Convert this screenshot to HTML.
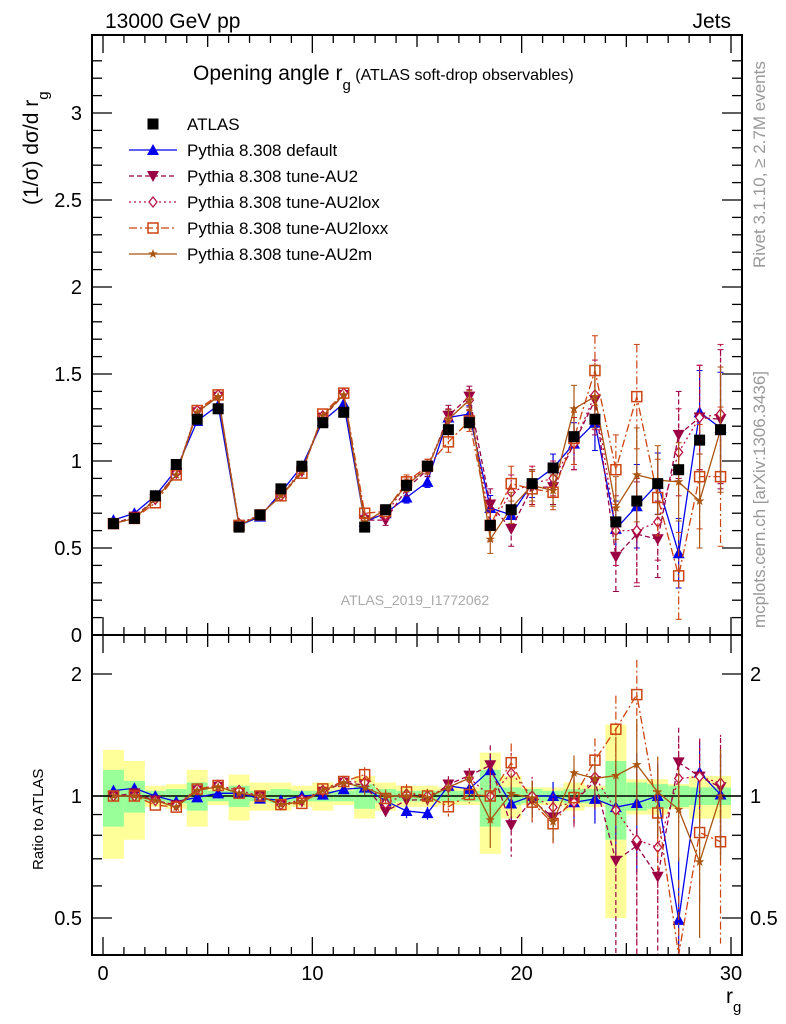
<!DOCTYPE html>
<html><head><meta charset="utf-8"><style>
html,body{margin:0;padding:0;background:#fff;}
svg{display:block;font-family:"Liberation Sans",sans-serif;}
</style></head><body>
<svg id="chart" width="786" height="1024" viewBox="0 0 786 1024" xmlns="http://www.w3.org/2000/svg">
<g id="bands"></g>
<g id="marks"></g>
<g id="axes"></g>
<text x="105" y="28" font-size="21">13000 GeV pp</text>
<text x="731" y="28" font-size="21" text-anchor="end">Jets</text>
<text x="193" y="80" font-size="21">Opening angle r<tspan font-size="15" dy="10">g</tspan><tspan font-size="16" dy="-10"> (ATLAS soft-drop observables)</tspan></text>
<text transform="translate(38,205) rotate(-90)" font-size="21">(1/σ) dσ/d r<tspan font-size="15" dy="10">g</tspan></text>
<text transform="translate(43,870) rotate(-90)" font-size="15">Ratio to ATLAS</text>
<text transform="translate(765,268) rotate(-90)" font-size="17" fill="#999">Rivet 3.1.10, ≥ 2.7M events</text>
<text transform="translate(765,628) rotate(-90)" font-size="17" fill="#999">mcplots.cern.ch [arXiv:1306.3436]</text>
<text x="415" y="605" font-size="14" fill="#aaa" text-anchor="middle">ATLAS_2019_I1772062</text>
<text x="726" y="1003" font-size="21">r<tspan font-size="15" dy="9">g</tspan></text>
<g id="legend"></g>
</svg>
<script>
const xCenters=[0.5,1.5,2.5,3.5,4.5,5.5,6.5,7.5,8.5,9.5,10.5,11.5,12.5,13.5,14.5,15.5,16.5,17.5,18.5,19.5,20.5,21.5,22.5,23.5,24.5,25.5,26.5,27.5,28.5,29.5];
const atlas=[0.64,0.67,0.80,0.98,1.24,1.30,0.62,0.69,0.84,0.97,1.22,1.28,0.62,0.72,0.86,0.97,1.18,1.22,0.63,0.72,0.87,0.96,1.14,1.24,0.65,0.77,0.87,0.95,1.12,1.18];
const bandTotal=[0.30,0.22,0.06,0.07,0.16,0.05,0.13,0.08,0.08,0.06,0.08,0.05,0.12,0.08,0.06,0.06,0.05,0.05,0.28,0.12,0.05,0.05,0.08,0.06,0.50,0.10,0.10,0.07,0.12,0.12];
const bandStat=[0.16,0.09,0.03,0.04,0.08,0.03,0.06,0.03,0.04,0.03,0.03,0.03,0.07,0.04,0.03,0.03,0.03,0.03,0.16,0.05,0.04,0.03,0.04,0.04,0.22,0.08,0.07,0.06,0.05,0.05];
const mcErr=[0.01,0.01,0.01,0.01,0.01,0.01,0.01,0.01,0.01,0.01,0.01,0.01,0.03,0.03,0.04,0.04,0.06,0.06,0.09,0.1,0.1,0.1,0.15,0.2,0.2,0.3,0.22,0.25,0.3,0.4];
const pyDefault=[0.66,0.70,0.80,0.95,1.23,1.32,0.63,0.68,0.82,0.97,1.23,1.33,0.65,0.70,0.79,0.88,1.25,1.27,0.73,0.69,0.87,0.96,1.10,1.22,0.61,0.74,0.87,0.47,1.28,1.19];
const pyAU2=[0.64,0.68,0.78,0.93,1.28,1.37,0.63,0.69,0.80,0.94,1.25,1.38,0.66,0.66,0.84,0.95,1.26,1.37,0.75,0.61,0.85,0.85,1.10,1.35,0.45,0.58,0.55,1.15,1.25,1.24];
const pyAU2lox=[0.64,0.67,0.78,0.93,1.29,1.38,0.64,0.69,0.80,0.95,1.26,1.39,0.67,0.69,0.87,0.97,1.24,1.35,0.63,0.82,0.87,0.90,1.10,1.38,0.60,0.60,0.65,1.05,1.25,1.27];
const pyAU2loxx=[0.64,0.67,0.76,0.92,1.29,1.38,0.63,0.69,0.80,0.93,1.27,1.39,0.70,0.71,0.88,0.97,1.11,1.23,0.63,0.87,0.84,0.82,1.13,1.52,0.95,1.37,0.79,0.34,0.91,0.91];
const pyAU2m=[0.64,0.67,0.78,0.92,1.28,1.37,0.63,0.69,0.80,0.94,1.26,1.38,0.65,0.72,0.86,0.96,1.24,1.35,0.55,0.73,0.86,0.83,1.30,1.37,0.73,0.92,0.89,0.88,0.77,1.18];
const mainTicks=[0,0.5,1,1.5,2,2.5,3];
const mainTickLabels=["0","0.5","1","1.5","2","2.5","3"];
const ratioTicks=[0.5,1,2];
const ratioTickLabels=["0.5","1","2"];
const xTicks=[0,10,20,30];
const xTickLabels=["0","10","20","30"];

const NS="http://www.w3.org/2000/svg";
const L=92,R=742,T=35,MB=635,RB=955;
const X=v=>103+v*(731-103)/30;
const Y=v=>635-v*174;
const YR=v=>796-Math.log2(v)*122;
const clampR=y=>Math.max(MB,Math.min(RB,y));
function mk(tag,attrs,parent){const e=document.createElementNS(NS,tag);for(const k in attrs)e.setAttribute(k,attrs[k]);parent.appendChild(e);return e;}
const bands=document.getElementById('bands'),marks=document.getElementById('marks'),axes=document.getElementById('axes'),legend=document.getElementById('legend');

xCenters.forEach((c,i)=>{
  const yb=mk('rect',{x:X(c-0.5),width:X(1)-X(0),y:YR(1+bandTotal[i]),height:YR(1-bandTotal[i])-YR(1+bandTotal[i]),fill:'#ffff99'},bands);
  
  
  const gb=mk('rect',{x:X(c-0.5),width:X(1)-X(0),y:YR(1+bandStat[i]),height:YR(1-bandStat[i])-YR(1+bandStat[i]),fill:'#99ff99'},bands);
  
  
});
const one=mk('line',{x1:L,x2:R,y1:YR(1),y2:YR(1),stroke:'#000','stroke-width':1.5},bands);



function marker(g,type,x,y,col){
  let e;
  if(type==='sq') e=mk('rect',{x:x-5.5,y:y-5.5,width:11,height:11,fill:'#000'},g);
  else if(type==='up') e=mk('polygon',{points:`${x},${y-6} ${x-6},${y+5} ${x+6},${y+5}`,fill:col},g);
  else if(type==='down') e=mk('polygon',{points:`${x},${y+6} ${x-6},${y-5} ${x+6},${y-5}`,fill:col},g);
  else if(type==='dia') e=mk('polygon',{points:`${x},${y-5} ${x-4},${y} ${x},${y+5} ${x+4},${y}`,fill:'#fff',stroke:col,'stroke-width':1.3},g);
  else if(type==='osq') e=mk('rect',{x:x-5,y:y-5,width:10,height:10,fill:'none',stroke:col,'stroke-width':1.5},g);
  else {let p=[];for(let k=0;k<10;k++){const r=k%2?2:5,a=-Math.PI/2+k*Math.PI/5;p.push((x+r*Math.cos(a)).toFixed(1)+','+(y+r*Math.sin(a)).toFixed(1));}e=mk('polygon',{points:p.join(' '),fill:col},g);}
  
  
}
const series=[
 {name:'Pythia 8.308 default',vals:pyDefault,col:'#0000ee',dash:'',m:'up',sc:0.8},
 {name:'Pythia 8.308 tune-AU2',vals:pyAU2,col:'#990044',dash:'5,3',m:'down',sc:1},
 {name:'Pythia 8.308 tune-AU2lox',vals:pyAU2lox,col:'#bb1144',dash:'2,3',m:'dia',sc:1},
 {name:'Pythia 8.308 tune-AU2loxx',vals:pyAU2loxx,col:'#cc4411',dash:'8,3,2,3',m:'osq',sc:1},
 {name:'Pythia 8.308 tune-AU2m',vals:pyAU2m,col:'#aa5511',dash:'',m:'star',sc:0.9}
];
series.forEach(s=>{
  const g=mk('g',{},marks);
  
  
  const pts=xCenters.map((c,i)=>X(c)+','+Y(s.vals[i])).join(' ');
  const rpts=xCenters.map((c,i)=>X(c)+','+clampR(YR(s.vals[i]/atlas[i]))).join(' ');
  const a={fill:'none',stroke:s.col,'stroke-width':1.3};if(s.dash)a['stroke-dasharray']=s.dash;
  const l1=mk('polyline',Object.assign({points:pts},a),g);
  
  
  const l2=mk('polyline',Object.assign({points:rpts},a),g);
  
  
  xCenters.forEach((c,i)=>{
    const v=s.vals[i],e=mcErr[i]*s.sc,x=X(c);
    if(e>0.02){
      mk('line',{x1:x,x2:x,y1:Y(v+e),y2:Y(v-e),stroke:s.col,'stroke-width':1.2,'stroke-dasharray':s.dash},g);
      mk('line',{x1:x-3,x2:x+3,y1:Y(v+e),y2:Y(v+e),stroke:s.col},g);
      mk('line',{x1:x-3,x2:x+3,y1:Y(v-e),y2:Y(v-e),stroke:s.col},g);
      const r=v/atlas[i],re=e/atlas[i];
      mk('line',{x1:x,x2:x,y1:clampR(YR(r+re)),y2:clampR(YR(Math.max(r-re,0.3))),stroke:s.col,'stroke-width':1.2,'stroke-dasharray':s.dash},g);
    }
    marker(g,s.m,x,Y(v),s.col);
    const ry=YR(v/atlas[i]);
    if(ry>MB&&ry<RB)marker(g,s.m,x,ry,s.col);
  });
});
const dg=mk('g',{},marks);


xCenters.forEach((c,i)=>marker(dg,'sq',X(c),Y(atlas[i]),'#000'));

[[T,MB],[MB,RB]].forEach(([t,b],k)=>{
  const f=mk('rect',{x:L,y:t,width:R-L,height:b-t,fill:'none',stroke:'#000','stroke-width':2},axes);
  
  
  for(let v=0;v<=30;v++){
    const x=X(v),len=v%10===0?18:(v%5===0?12:8);
    mk('line',{x1:x,x2:x,y1:t,y2:t+len,stroke:'#000','stroke-width':1.3},axes);
    mk('line',{x1:x,x2:x,y1:b,y2:b-len,stroke:'#000','stroke-width':1.3},axes);
  }
});
for(let v=0;v<=3.4;v+=0.1){
  const y=Y(v),maj=Math.abs(v*2-Math.round(v*2))<1e-6,len=maj?20:10;
  mk('line',{x1:L,x2:L+len,y1:y,y2:y,stroke:'#000','stroke-width':1.3},axes);
  mk('line',{x1:R,x2:R-len,y1:y,y2:y,stroke:'#000','stroke-width':1.3},axes);
}
mainTicks.forEach((v,i)=>{
  const t=mk('text',{x:82,y:Y(v)+7,'font-size':20,'text-anchor':'end'},axes);t.textContent=mainTickLabels[i];
  
  
});
[0.5,0.6,0.7,0.8,0.9,1,2].forEach(v=>{
  const y=YR(v),maj=(v===0.5||v===1||v===2),len=maj?20:10;
  mk('line',{x1:L,x2:L+len,y1:y,y2:y,stroke:'#000','stroke-width':1.3},axes);
  mk('line',{x1:R,x2:R-len,y1:y,y2:y,stroke:'#000','stroke-width':1.3},axes);
});
ratioTicks.forEach((v,i)=>{
  const t=mk('text',{x:82,y:YR(v)+7,'font-size':20,'text-anchor':'end'},axes);t.textContent=ratioTickLabels[i];
  
  
  const t2=mk('text',{x:750,y:YR(v)+7,'font-size':20},axes);t2.textContent=ratioTickLabels[i];
  
  
});
xTicks.forEach((v,i)=>{
  const t=mk('text',{x:X(v),y:980,'font-size':20,'text-anchor':'middle'},axes);t.textContent=xTickLabels[i];
  
  
});

const ly=[124,150,176,202,228,254];
const e0=mk('g',{},legend);


marker(e0,'sq',153,ly[0],'#000');
mk('text',{x:187,y:ly[0]+6,'font-size':17},e0).textContent='ATLAS';
series.forEach((s,i)=>{
  const g=mk('g',{},legend);
  
  
  const a={x1:129,x2:177,y1:ly[i+1],y2:ly[i+1],stroke:s.col,'stroke-width':1.3};if(s.dash)a['stroke-dasharray']=s.dash;
  mk('line',a,g);
  marker(g,s.m,153,ly[i+1],s.col);
  mk('text',{x:187,y:ly[i+1]+6,'font-size':17},g).textContent=s.name;
});
</script>
</body></html>
